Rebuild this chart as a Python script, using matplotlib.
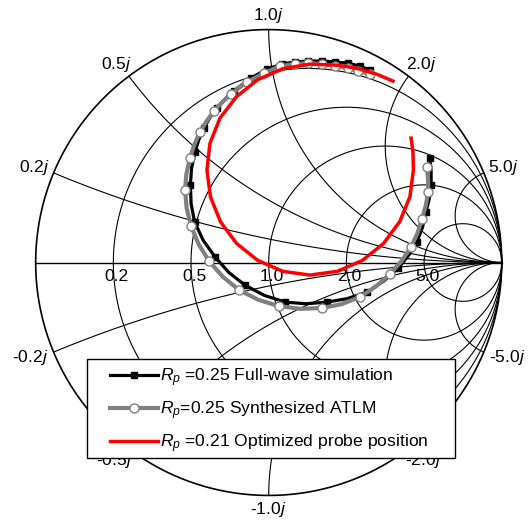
import numpy as np
import matplotlib
matplotlib.use('Agg')
import matplotlib.pyplot as plt
from matplotlib.patches import Rectangle

plt.rcParams['font.family'] = 'Liberation Sans'
plt.rcParams['mathtext.fontset'] = 'custom'
plt.rcParams['mathtext.rm'] = 'Liberation Sans'
plt.rcParams['mathtext.it'] = 'Liberation Sans:italic'

FS = 12.6

# Smith chart grid values
R_TICKS = [0.2, 0.5, 1.0, 2.0, 5.0]
X_TICKS = [0.2, 0.5, 1.0, 2.0, 5.0]

fw_re = [0.435, 0.392, 0.340, 0.285, 0.229, 0.169, 0.113, 0.057, -0.007, -0.076, -0.149, -0.187, -0.222,
         -0.252, -0.278, -0.300, -0.316, -0.331, -0.336, -0.333, -0.318, -0.281, -0.230, -0.172, -0.102,
         -0.019, 0.070, 0.160, 0.250, 0.337, 0.422, 0.493, 0.555, 0.600, 0.636, 0.660, 0.675, 0.689,
         0.697, 0.697, 0.692]
fw_im = [0.826, 0.843, 0.856, 0.861, 0.865, 0.865, 0.861, 0.852, 0.830, 0.792, 0.736, 0.702, 0.663,
         0.622, 0.577, 0.527, 0.474, 0.405, 0.333, 0.253, 0.174, 0.095, 0.024, -0.042, -0.097,
         -0.141, -0.170, -0.177, -0.170, -0.155, -0.127, -0.080, -0.024, 0.030, 0.088, 0.151, 0.217, 0.274,
         0.333, 0.391, 0.449]

atlm_re = [0.435, 0.383, 0.340, 0.285, 0.229, 0.169, 0.113, 0.048, -0.020, -0.093, -0.162, -0.200, -0.235,
           -0.267, -0.295, -0.319, -0.338, -0.353, -0.359, -0.352, -0.333, -0.301, -0.256, -0.197, -0.127,
           -0.045, 0.044, 0.136, 0.229, 0.312, 0.392, 0.460, 0.521, 0.570, 0.611, 0.638, 0.658, 0.674,
           0.684, 0.684, 0.679]
atlm_im = [0.809, 0.822, 0.835, 0.843, 0.852, 0.856, 0.852, 0.843, 0.813, 0.775, 0.723, 0.688, 0.650,
           0.606, 0.560, 0.506, 0.449, 0.381, 0.311, 0.233, 0.157, 0.079, 0.006, -0.061, -0.118,
           -0.160, -0.187, -0.199, -0.195, -0.179, -0.148, -0.103, -0.049, 0.006, 0.067, 0.125, 0.187, 0.244,
           0.303, 0.357, 0.410]

# samples carrying a marker
mark_idx = list(range(11)) + list(range(12, 41, 2))

opt_re = [0.533, 0.465, 0.381, 0.298, 0.177, 0.061, -0.047, -0.138, -0.209, -0.252, -0.265, -0.250, -0.207,
          -0.138, -0.047, 0.061, 0.177, 0.294, 0.402, 0.493, 0.562, 0.606, 0.621, 0.619, 0.611]
opt_im = [0.779, 0.808, 0.833, 0.847, 0.852, 0.832, 0.785, 0.712, 0.620, 0.512, 0.397, 0.282, 0.175,
          0.082, 0.009, -0.038, -0.054, -0.038, 0.009, 0.082, 0.175, 0.282, 0.397, 0.475, 0.534]

labels = ['$R_p$ =0.25 Full-wave simulation',
          '$R_p$=0.25 Synthesized ATLM',
          '$R_p$ =0.21 Optimized probe position']


def gamma(z):
    return (z - 1) / (z + 1)


fig = plt.figure(figsize=(5.29, 5.22), dpi=100)
ax = fig.add_axes([0, 0, 1, 1])
ax.set_xlim(-1.153, 1.117)
ax.set_ylim(-1.114, 1.127)
ax.axis('off')

# grid
t = np.linspace(0, 2 * np.pi, 721)
ax.plot(np.cos(t), np.sin(t), color='k', lw=1.2)
ax.plot([-1, 1], [0, 0], color='k', lw=1.0)
for r in R_TICKS:
    c = r / (1 + r)
    rad = 1 / (1 + r)
    ax.plot(c + rad * np.cos(t), rad * np.sin(t), color='k', lw=0.8)
rr = np.concatenate([[0], np.logspace(-3, 4, 800)])
for x in X_TICKS:
    for s in (1, -1):
        g = gamma(rr + 1j * s * x)
        ax.plot(g.real, g.imag, color='k', lw=0.8)

# labels
for r in R_TICKS:
    g = gamma(r)
    ax.annotate('%.1f' % r, xy=(g, 0), xytext=(3, -13.5), textcoords='offset pixels',
                ha='center', va='center', fontsize=FS)
for x in X_TICKS:
    for s in (1, -1):
        g = gamma(1j * s * x)
        lab = ('' if s > 0 else '-') + '%.1f' % x + '$j$'
        n = len(lab) - 2
        hw = 3.8 * n
        dx = 6 * g.real + hw * g.real
        dy = 6 * g.imag + 8 * g.imag
        ax.annotate(lab, xy=(g.real, g.imag), xytext=(dx, dy), textcoords='offset pixels',
                    ha='center', va='center', fontsize=FS)

# data
ax.plot(fw_re, fw_im, color='k', lw=2.3, marker='s', ms=5, mfc='k', mec='k',
        markevery=mark_idx, label=labels[0], zorder=3)
ax.plot(atlm_re, atlm_im, color='#808080', lw=3, marker='o', ms=6.5, mfc='white', mec='#808080',
        mew=1.0, markevery=mark_idx, label=labels[1], zorder=3.2)
ax.plot(opt_re, opt_im, color='red', lw=2.5, label=labels[2], zorder=3.4)

# legend box
ax.add_patch(Rectangle((87 / 529, 1 - 458 / 522), 368 / 529, 99 / 522, transform=fig.transFigure,
                       facecolor='white', edgecolor='k', lw=1.0, zorder=4.5, clip_on=False))
leg = ax.legend(loc='upper left', bbox_to_anchor=(110 / 529, 1 - 366 / 522),
                bbox_transform=fig.transFigure, frameon=False, borderpad=0, borderaxespad=0,
                fontsize=FS, handlelength=2.75, handletextpad=0.1, labelspacing=0.6,
                markerscale=1.0)
leg.set_zorder(5)

fig.savefig('out.png', dpi=100)
